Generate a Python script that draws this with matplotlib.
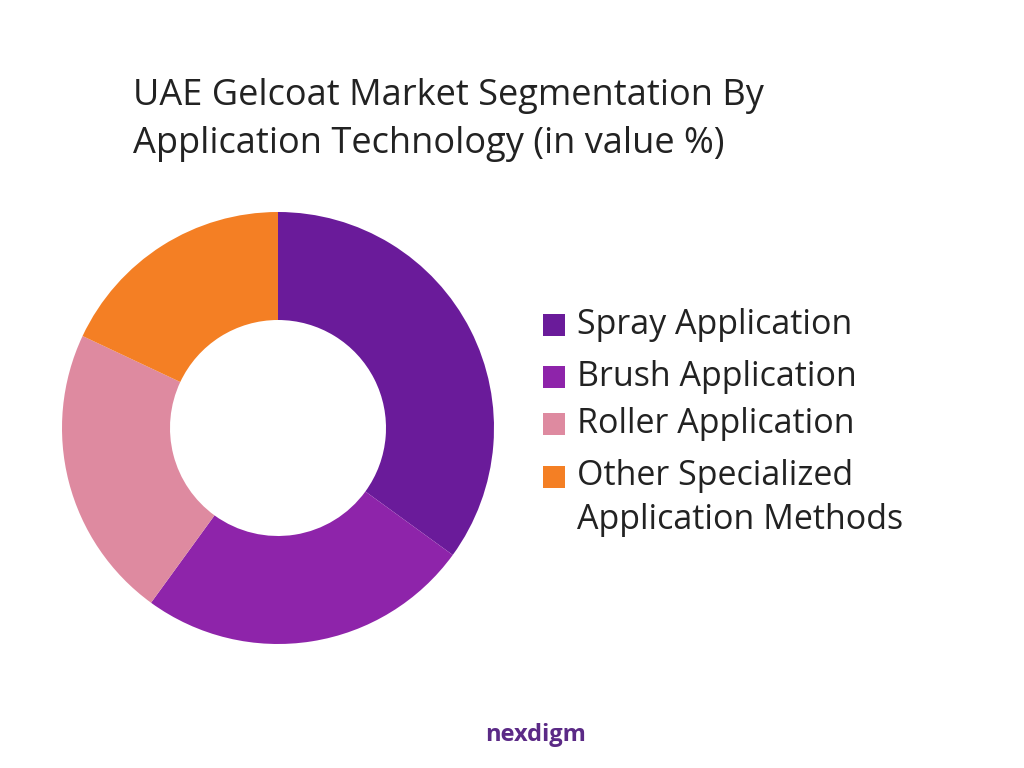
import matplotlib
matplotlib.use("Agg")
import matplotlib.pyplot as plt
from matplotlib.patches import Rectangle

categories = ["Spray Application", "Brush Application", "Roller Application",
              "Other Specialized\nApplication Methods"]
values = [35, 25, 22, 18]
colors = ["#6A1B9A", "#8E24AA", "#DE8AA0", "#F47F24"]
title = "UAE Gelcoat Market Segmentation By\nApplication Technology (in value %)"

plt.rcParams['font.family'] = ['Open Sans', 'DejaVu Sans']
fig = plt.figure(figsize=(10.24, 7.68), dpi=100)
W, H = 1024, 768
cx, cy, r = 278, 428, 216
ax = fig.add_axes([(cx - r) / W, (H - cy - r) / H, 2 * r / W, 2 * r / H])
ax.pie(values, colors=colors, startangle=90, counterclock=False, radius=1,
       wedgeprops=dict(width=0.5, edgecolor='none'), frame=False)
ax.set_xlim(-1, 1)
ax.set_ylim(-1, 1)
ax.set_aspect('equal')
ax.axis('off')

fig.text(133 / W, 1 - 120 / H, title, fontsize=26, color="#222222",
         va='center', ha='left', linespacing=1.45)

ys = [325, 377, 424, 498]
for cat, c, y in zip(categories, colors, ys):
    sq_y = y if "\n" not in cat else 477
    fig.patches.append(Rectangle(((543) / W, 1 - (sq_y + 11) / H), 22 / W, 22 / H,
                                 transform=fig.transFigure, facecolor=c, edgecolor='none'))
    fig.text(577 / W, 1 - y / H, cat, fontsize=24.5, color="#222222",
             va='center', ha='left', linespacing=1.35)

fig.text(485 / W, 1 - 735 / H, "nexdigm", fontsize=17, fontweight='bold',
         color="#5B2A86", ha='left', va='center')
fig.savefig("out.png", dpi=100, facecolor='white')
